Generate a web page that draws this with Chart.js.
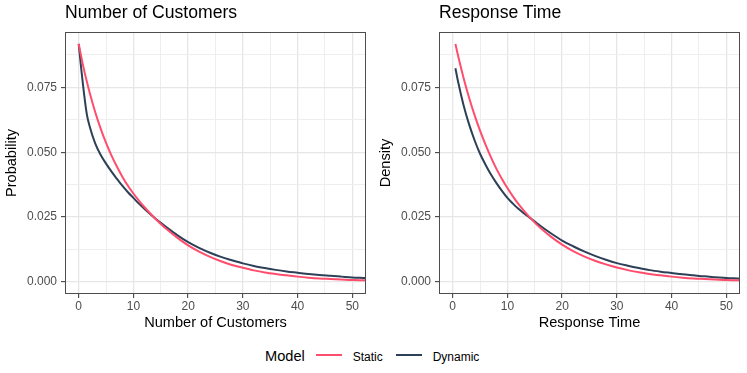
<!DOCTYPE html>
<html>
<head>
<meta charset="utf-8">
<script src="https://cdn.jsdelivr.net/npm/chart.js@4.4.1/dist/chart.umd.min.js"></script>
<style>
body { margin: 0; background: #fff; font-family: "Liberation Sans", Arial, sans-serif; }
#wrap { position: relative; width: 747px; height: 373px; overflow: hidden; }
canvas { position: absolute; top: 0; }
.txt { position: absolute; line-height: 1; white-space: nowrap; color: #000; }
.key { position: absolute; height: 2px; }
</style>
</head>
<body>
<div id="wrap">
  <canvas id="customersChart" width="373" height="340" style="left:0"></canvas>
  <canvas id="responseChart" width="373" height="340" style="left:374px"></canvas>

  <div class="txt" style="left:65px;top:4.4px;font-size:17.6px">Number of Customers</div>
  <div class="txt" style="left:439px;top:4.4px;font-size:17.6px">Response Time</div>

  <div class="txt" style="left:265px;top:349.3px;font-size:14.6px">Model</div>
  <div class="key" style="left:316px;top:354.3px;width:26px;background:#FF4D6D"></div>
  <div class="txt" style="left:352.7px;top:350.5px;font-size:12px">Static</div>
  <div class="key" style="left:396px;top:354.3px;width:26px;background:#2E4057"></div>
  <div class="txt" style="left:432.7px;top:350.5px;font-size:12px">Dynamic</div>
</div>

<script>
// Values
const customersX = [0, 0.5, 1, 1.5, 2, 3, 4, 5, 6, 7, 8, 9, 10, 11, 12, 13, 14, 15, 16, 18, 20, 22, 24, 26, 28, 30, 32, 34, 36, 38, 40, 42, 44, 46, 48, 50, 52, 54];
const customersStatic = [0.0917, 0.0864, 0.0815, 0.0771, 0.0730, 0.0656, 0.0592, 0.0536, 0.0487, 0.0444, 0.0405, 0.0371, 0.0341, 0.0314, 0.0289, 0.0266, 0.0244, 0.0224, 0.0205, 0.0171, 0.0141, 0.0117, 0.0097, 0.0080, 0.0066, 0.0055, 0.0045, 0.0037, 0.0031, 0.0026, 0.0021, 0.0017, 0.0014, 0.0012, 0.0010, 0.0008, 0.0007, 0.0006];
const customersDynamic = [0.0917, 0.0815, 0.0722, 0.0645, 0.0600, 0.0535, 0.0490, 0.0456, 0.0425, 0.0397, 0.0370, 0.0346, 0.0324, 0.0302, 0.0282, 0.0263, 0.0245, 0.0228, 0.0212, 0.0181, 0.0154, 0.0132, 0.0113, 0.0097, 0.0084, 0.0072, 0.0062, 0.0054, 0.0047, 0.0041, 0.0036, 0.0031, 0.0027, 0.0024, 0.0021, 0.0018, 0.0016, 0.0014];

const responseX = [0.5, 1, 2, 3, 4, 5, 6, 7, 8, 9, 10, 11, 12, 13, 14, 15, 16, 18, 20, 22, 24, 26, 28, 30, 32, 34, 36, 38, 40, 42, 44, 46, 48, 50, 52, 54];
const responseStatic = [0.0917, 0.0870, 0.0785, 0.0710, 0.0643, 0.0583, 0.0529, 0.0480, 0.0436, 0.0397, 0.0362, 0.0330, 0.0301, 0.0275, 0.0251, 0.0229, 0.0209, 0.0174, 0.0144, 0.0119, 0.0099, 0.0082, 0.0068, 0.0056, 0.0046, 0.0038, 0.0031, 0.0026, 0.0021, 0.0017, 0.0014, 0.0012, 0.0010, 0.0008, 0.0007, 0.0005];
const responseDynamic = [0.0823, 0.0770, 0.0680, 0.0607, 0.0546, 0.0494, 0.0452, 0.0414, 0.0381, 0.0351, 0.0324, 0.0302, 0.0282, 0.0265, 0.0249, 0.0233, 0.0217, 0.0187, 0.0160, 0.0138, 0.0118, 0.0101, 0.0086, 0.0073, 0.0063, 0.0054, 0.0046, 0.0040, 0.0035, 0.0030, 0.0026, 0.0022, 0.0019, 0.0016, 0.0014, 0.0012];

const xTicks = [0, 5, 10, 15, 20, 25, 30, 35, 40, 45, 50];
const xTickLabels = ["0", "", "10", "", "20", "", "30", "", "40", "", "50"];
const yTicks = [0, 0.0125, 0.025, 0.0375, 0.05, 0.0625, 0.075, 0.0875];
const yTickLabels = ["0.000", "", "0.025", "", "0.050", "", "0.075", ""];

const STATIC_COLOR = "#FF4D6D";
const DYNAMIC_COLOR = "#2E4057";
const FONT = "'Liberation Sans', Arial, sans-serif";

// ggplot-like panel border
const panelBorder = {
    id: "panelBorder",
    afterDraw(chart) {
        const a = chart.chartArea;
        const ctx = chart.ctx;
        ctx.save();
        ctx.strokeStyle = "#4d4d4d";
        ctx.lineWidth = 1;
        ctx.strokeRect(Math.round(a.left) + 0.5, Math.round(a.top) + 0.5,
            Math.round(a.right - a.left) - 1, Math.round(a.bottom - a.top) - 1);
        ctx.restore();
    }
};

function toPoints(xs, ys) {
    return xs.map((x, i) => ({ x: x, y: ys[i] }));
}

// major lines where a label exists, minor lines elsewhere
function gridStyle(labels) {
    return {
        color: ctx => labels[ctx.index] ? "#e6e6e6" : "#eeeeee",
        lineWidth: ctx => labels[ctx.index] ? 1.3 : 1,
        tickColor: ctx => labels[ctx.index] ? "#333333" : "rgba(0,0,0,0)",
        tickLength: 4,
        tickWidth: 1
    };
}

function makeChart(id, xs, staticVals, dynamicVals, xTitle, yTitle) {
    return new Chart(document.getElementById(id), {
        type: "line",
        data: {
            datasets: [
                { label: "Static", data: toPoints(xs, staticVals), borderColor: STATIC_COLOR, borderWidth: 2, pointRadius: 0, cubicInterpolationMode: "monotone", fill: false },
                { label: "Dynamic", data: toPoints(xs, dynamicVals), borderColor: DYNAMIC_COLOR, borderWidth: 2, pointRadius: 0, cubicInterpolationMode: "monotone", fill: false }
            ]
        },
        options: {
            responsive: false,
            animation: false,
            devicePixelRatio: 1,
            layout: { padding: { top: 32, right: 7, bottom: 0, left: 0 } },
            plugins: { legend: { display: false }, title: { display: false }, tooltip: { enabled: false } },
            scales: {
                x: {
                    type: "linear",
                    min: -2.5,
                    max: 52.5,
                    afterBuildTicks: s => { s.ticks = xTicks.map(v => ({ value: v })); },
                    afterFit: s => { s.height = 46; },
                    border: { display: false },
                    grid: gridStyle(xTickLabels),
                    ticks: {
                        autoSkip: false, maxRotation: 0, padding: 1,
                        color: "#4d4d4d", font: { family: FONT, size: 12 },
                        callback: (v, i) => xTickLabels[i]
                    },
                    title: { display: true, text: xTitle, color: "#000", font: { family: FONT, size: 14.6 }, padding: { top: 0, bottom: 8 } }
                },
                y: {
                    type: "linear",
                    min: -0.00459,
                    max: 0.09628,
                    afterBuildTicks: s => { s.ticks = yTicks.map(v => ({ value: v })); },
                    afterFit: s => { s.width = 65; },
                    border: { display: false },
                    grid: gridStyle(yTickLabels),
                    ticks: {
                        autoSkip: false, padding: 4,
                        color: "#4d4d4d", font: { family: FONT, size: 12 },
                        callback: (v, i) => yTickLabels[i]
                    },
                    title: { display: true, text: yTitle, color: "#000", font: { family: FONT, size: 14.6 }, padding: { top: 3, bottom: 0 } }
                }
            }
        },
        plugins: [panelBorder]
    });
}

let customersChart = makeChart("customersChart", customersX, customersStatic, customersDynamic, "Number of Customers", "Probability");
let responseChart = makeChart("responseChart", responseX, responseStatic, responseDynamic, "Response Time", "Density");
</script>
</body>
</html>
